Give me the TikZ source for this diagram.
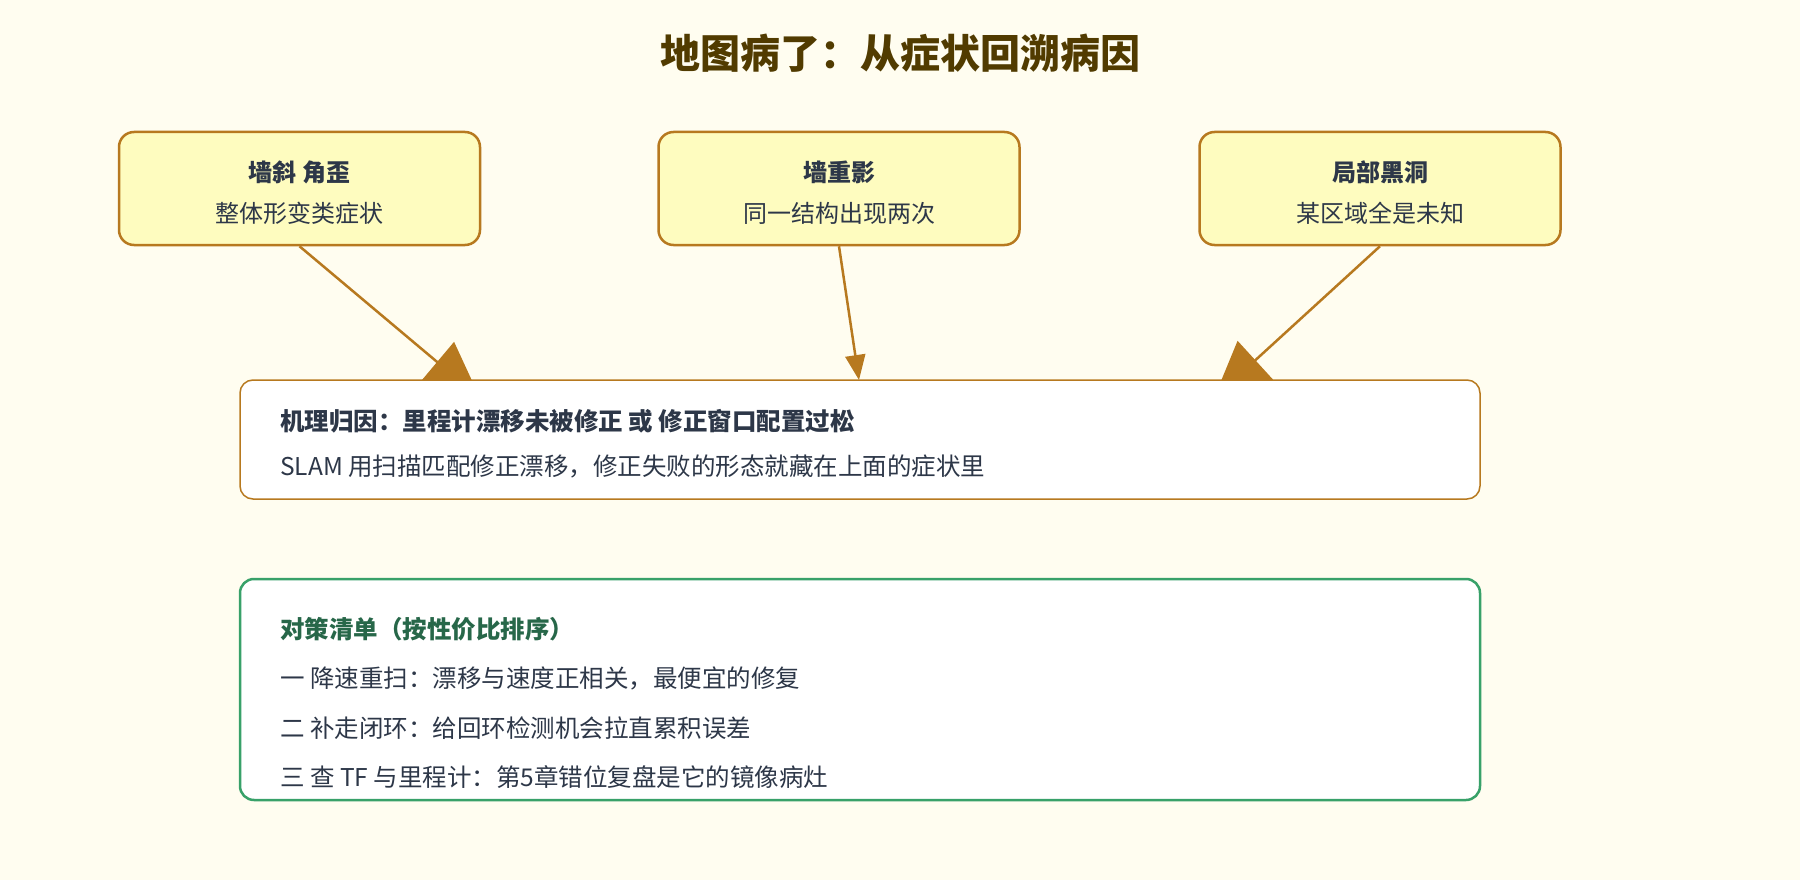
\documentclass[tikz,border=0pt]{standalone}
\usepackage{fontspec}
\setmainfont{Noto Sans CJK SC}
\usetikzlibrary{arrows.meta}
\definecolor{paper}{HTML}{FFFDF0}
\definecolor{ink}{HTML}{2D3748}
\definecolor{rust}{HTML}{B7791F}
\definecolor{symfill}{HTML}{FEFCBF}
\definecolor{headbrown}{HTML}{513B00}
\definecolor{leaf}{HTML}{38A169}
\definecolor{darkleaf}{HTML}{276749}
\pgfdeclarelayer{bg}
\pgfsetlayers{bg,main}
\tikzset{
    symptom/.style={draw=rust, line width=2.5pt, fill=symfill, rounded corners=15pt,
        minimum width=361pt, minimum height=113pt, align=center, text=ink,
        font=\fontsize{24}{41}\selectfont},
    panel/.style={fill=white, minimum width=1240pt},
    body/.style={anchor=west, inner sep=0pt, align=left, text=ink},
    lead/.style={rust, line width=2.5pt, -{Triangle[length=56pt,width=52pt]}},
}
\begin{document}
\begin{tikzpicture}[x=1pt,y=-1pt]
        \begin{pgfonlayer}{bg}
            \fill[paper] (0,0) rectangle (1800,880);
        \end{pgfonlayer}
        \useasboundingbox (0,0) rectangle (1800,880);

        \node[text=headbrown, font=\fontsize{40}{48}\selectfont\bfseries] (title) at (900,53) {地图病了：从症状回溯病因};

        % three symptoms
        \node[symptom] (tilt) at (299.5,188.5) {};
        \node[symptom] (ghost) at (839,188.5) {};
        \node[symptom] (hole) at (1380,188.5) {};
        \node[align=center, text=ink, font=\fontsize{24}{41}\selectfont] (tilttext) at (299.5,193) {\textbf{墙斜 角歪}\\整体形变类症状};
        \node[align=center, text=ink, font=\fontsize{24}{41}\selectfont] (ghosttext) at (839,193) {\textbf{墙重影}\\同一结构出现两次};
        \node[align=center, text=ink, font=\fontsize{24}{41}\selectfont] (holetext) at (1380,193) {\textbf{局部黑洞}\\某区域全是未知};

        % cause
        \node[panel, draw=rust, line width=1.5pt, rounded corners=13pt, minimum height=119pt] (cause) at (860,439.5) {};
        \node[body, font=\fontsize{24.5}{45}\selectfont] (causetext) at (280,444)
            {\textbf{机理归因：里程计漂移未被修正 或 修正窗口配置过松}\\SLAM 用扫描匹配修正漂移，修正失败的形态就藏在上面的症状里};

        % fixes
        \node[panel, draw=leaf, line width=2.5pt, rounded corners=14pt, minimum height=221pt] (fix) at (860,689.5) {};
        \node[body, font=\fontsize{24.5}{49.5}\selectfont] (fixtext) at (280,703)
            {\textcolor{darkleaf}{\textbf{对策清单（按性价比排序）}}\\
             一 降速重扫：漂移与速度正相关，最便宜的修复\\
             二 补走闭环：给回环检测机会拉直累积误差\\
             三 查 TF 与里程计：第5章错位复盘是它的镜像病灶};

        \coordinate (hit1) at (480,398);
        \coordinate (hit2) at (859,380);
        \coordinate (hit3) at (1214,398);
        \begin{pgfonlayer}{bg}
            \draw[lead] (tilt.south) -- (hit1);
            \draw[rust, line width=2.5pt, -{Triangle[length=25pt,width=20pt]}] (ghost.south) -- (hit2);
            \draw[lead] (hole.south) -- (hit3);
        \end{pgfonlayer}
    \end{tikzpicture}
\end{document}
